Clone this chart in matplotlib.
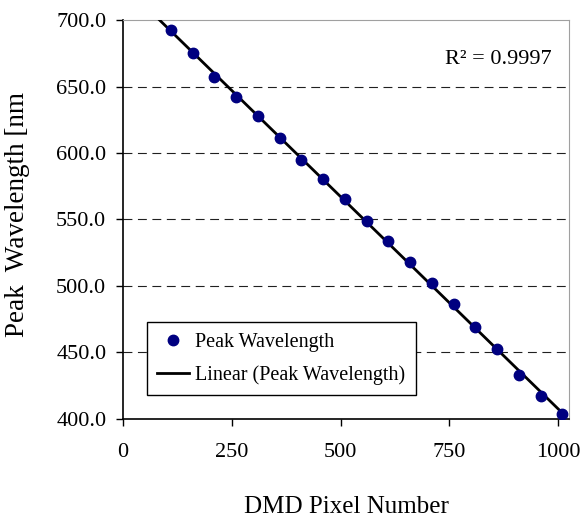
import matplotlib
matplotlib.use("Agg")
import matplotlib.pyplot as plt
import numpy as np

plt.rcParams["font.family"] = ["Liberation Serif", "DejaVu Serif"]

# data
pixel = [110, 160, 210, 260, 310, 360, 410, 460, 510, 560,
         610, 660, 710, 760, 810, 860, 910, 960, 1010]
peak_nm = [692.5, 675.4, 657.4, 642.3, 628.0, 611.1, 594.9, 580.2, 565.4, 548.9,
           534.1, 518.3, 502.0, 486.5, 469.4, 452.4, 433.1, 417.3, 403.8]
y_ticks = [400, 450, 500, 550, 600, 650, 700]
x_ticks = [0, 250, 500, 750, 1000]
r2_text = "R² = 0.9997"

fig = plt.figure(figsize=(5.82, 5.21), dpi=100)
ax = fig.add_axes([0.2113, 0.1958, 0.9777 - 0.2113, 0.9616 - 0.1958])

# linear trendline (least squares on the points)
slope, icpt = np.polyfit(pixel, peak_nm, 1)
xf = np.array([0, max(pixel)])
ax.plot(xf, slope * xf + icpt, color="black", lw=2.0, zorder=3,
        label="Linear (Peak Wavelength)")
ax.plot(pixel, peak_nm, "o", color="#000080", ms=7.5, zorder=4,
        label="Peak Wavelength")

ax.set_xlim(0, 1025)
ax.set_ylim(400, 700)
ax.set_xticks(x_ticks)
ax.set_yticks(y_ticks)
ax.set_yticklabels([f"{v:.1f}" for v in y_ticks])
ax.tick_params(labelsize=16, direction="out", length=5, width=1, colors="black")
ax.tick_params(axis="x", pad=12)
ax.tick_params(axis="y", pad=7)

for v in y_ticks[1:-1]:
    ax.axhline(v, color="#202020", lw=0.8, ls=(0, (8, 5)), zorder=1)

for s in ["top", "right"]:
    ax.spines[s].set_color("#a0a0a0")
for s in ["left", "bottom"]:
    ax.spines[s].set_color("black")
    ax.spines[s].set_linewidth(1.2)

ax.text(0.962, 0.9, r2_text, transform=ax.transAxes, ha="right", va="center", fontsize=16)

handles, labels = ax.get_legend_handles_labels()
leg = ax.legend(handles[::-1], labels[::-1], loc="lower left",
                bbox_to_anchor=(0.054, 0.06), borderaxespad=0, fontsize=14.5,
                fancybox=False, framealpha=1, edgecolor="black", borderpad=0.5,
                handlelength=1.6, handletextpad=0.3, labelspacing=0.68)
leg.get_frame().set_linewidth(1.0)

fig.text(346 / 582, 1 - 507 / 521, "DMD Pixel Number", ha="center", va="center", fontsize=18)
fig.text(18 / 582, 1 - 214 / 521, "Peak  Wavelength [nm", ha="center", va="center",
         rotation=90, fontsize=19.5)

fig.savefig("out.png", dpi=100)
